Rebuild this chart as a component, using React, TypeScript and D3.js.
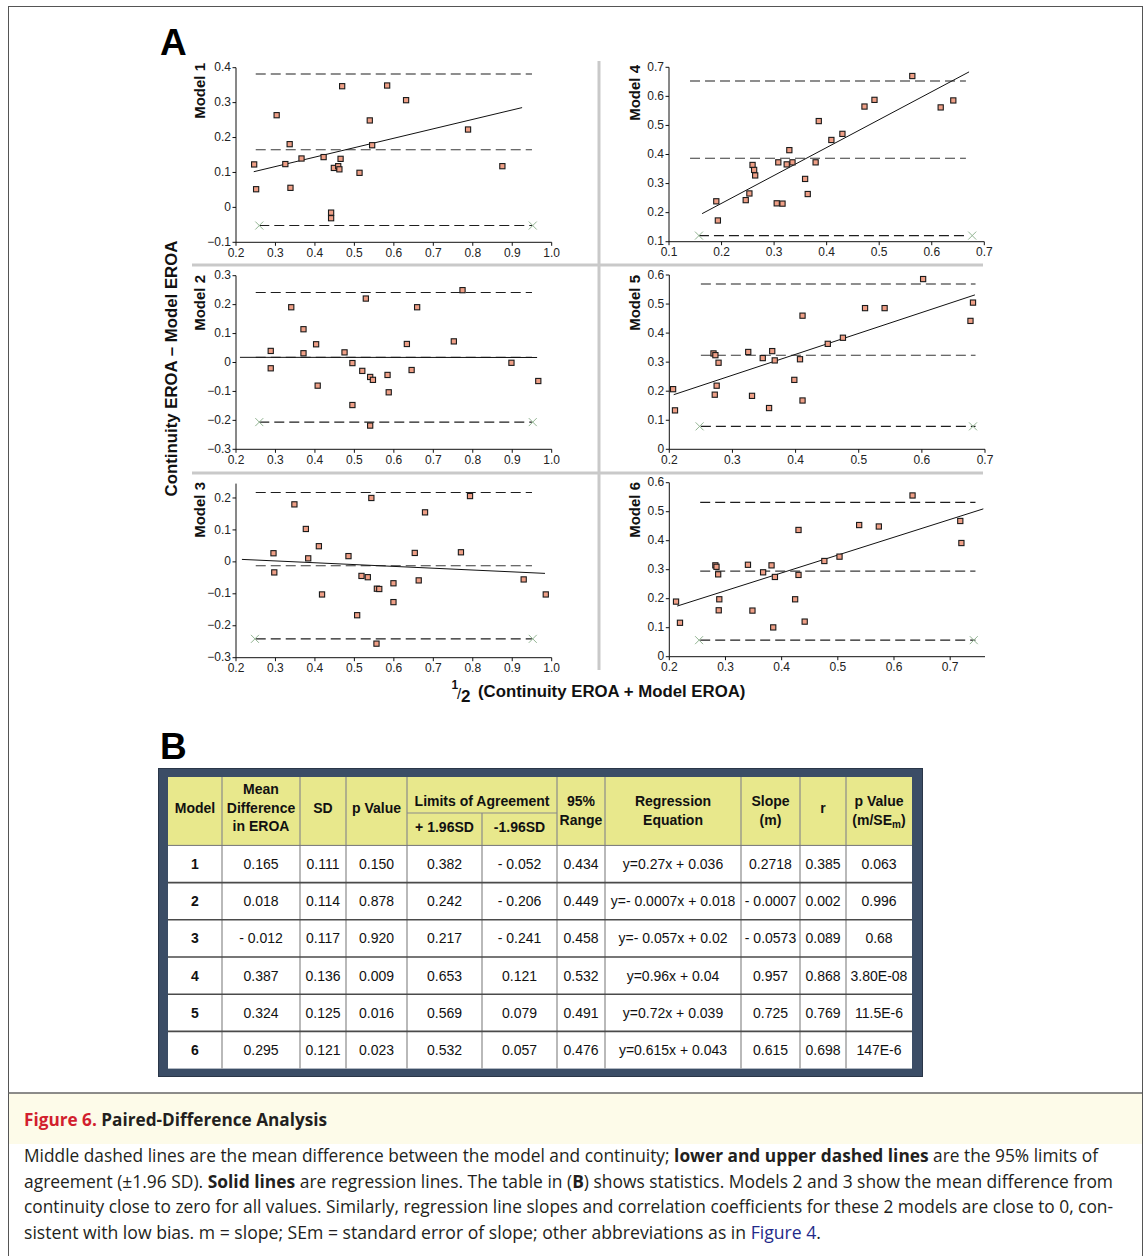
import React from 'react';
import * as d3 from 'd3';

// ---------------- DATA ----------------
const modelNames = ['Model 1', 'Model 2', 'Model 3', 'Model 4', 'Model 5', 'Model 6'];

const m1X = [0.246, 0.251, 0.303, 0.325, 0.336, 0.338, 0.366, 0.422, 0.441, 0.441, 0.448, 0.459, 0.462, 0.465, 0.469, 0.513, 0.539, 0.545, 0.583, 0.631, 0.788, 0.875];
const m1Y = [0.123, 0.052, 0.264, 0.124, 0.181, 0.056, 0.140, 0.144, -0.015, -0.031, 0.113, 0.118, 0.109, 0.139, 0.347, 0.099, 0.249, 0.178, 0.349, 0.307, 0.223, 0.118];

const m2X = [0.288, 0.288, 0.340, 0.371, 0.371, 0.403, 0.407, 0.475, 0.495, 0.495, 0.520, 0.529, 0.540, 0.547, 0.540, 0.584, 0.587, 0.633, 0.645, 0.659, 0.752, 0.774, 0.898, 0.966];
const m2Y = [0.040, -0.020, 0.191, 0.115, 0.032, 0.063, -0.080, 0.035, -0.002, -0.147, -0.029, 0.221, -0.050, -0.060, -0.218, -0.043, -0.103, 0.064, -0.026, 0.191, 0.073, 0.250, -0.001, -0.064];

const m3X = [0.295, 0.297, 0.348, 0.377, 0.383, 0.410, 0.418, 0.485, 0.507, 0.518, 0.534, 0.543, 0.557, 0.563, 0.556, 0.599, 0.599, 0.653, 0.663, 0.679, 0.770, 0.793, 0.929, 0.985];
const m3Y = [0.027, -0.033, 0.180, 0.103, 0.011, 0.049, -0.102, 0.018, -0.167, -0.044, -0.048, 0.200, -0.084, -0.085, -0.256, -0.067, -0.126, 0.028, -0.058, 0.155, 0.030, 0.206, -0.055, -0.102];

const m4X = [0.190, 0.193, 0.246, 0.253, 0.259, 0.262, 0.264, 0.305, 0.308, 0.316, 0.324, 0.329, 0.335, 0.359, 0.364, 0.379, 0.385, 0.409, 0.430, 0.472, 0.491, 0.563, 0.617, 0.641];
const m4Y = [0.239, 0.173, 0.243, 0.266, 0.364, 0.347, 0.328, 0.232, 0.373, 0.231, 0.366, 0.415, 0.373, 0.316, 0.264, 0.373, 0.515, 0.450, 0.471, 0.565, 0.588, 0.670, 0.562, 0.586];

const m5X = [0.206, 0.209, 0.270, 0.273, 0.278, 0.275, 0.272, 0.325, 0.331, 0.348, 0.363, 0.367, 0.358, 0.398, 0.407, 0.411, 0.411, 0.451, 0.475, 0.510, 0.541, 0.602, 0.677, 0.681];
const m5Y = [0.207, 0.134, 0.330, 0.324, 0.298, 0.219, 0.188, 0.335, 0.184, 0.314, 0.338, 0.306, 0.142, 0.239, 0.310, 0.460, 0.168, 0.363, 0.384, 0.486, 0.486, 0.586, 0.442, 0.505];

const m6X = [0.212, 0.219, 0.282, 0.284, 0.287, 0.289, 0.288, 0.340, 0.348, 0.367, 0.382, 0.388, 0.385, 0.424, 0.430, 0.430, 0.441, 0.476, 0.503, 0.538, 0.573, 0.633, 0.718, 0.720];
const m6Y = [0.190, 0.117, 0.315, 0.310, 0.284, 0.198, 0.160, 0.317, 0.159, 0.291, 0.315, 0.275, 0.101, 0.198, 0.437, 0.282, 0.121, 0.330, 0.345, 0.454, 0.449, 0.556, 0.468, 0.392];

const pointsX = [m1X, m2X, m3X, m4X, m5X, m6X];
const pointsY = [m1Y, m2Y, m3Y, m4Y, m5Y, m6Y];

// statistics (table B)
const meanDiff = [0.165, 0.018, -0.012, 0.387, 0.324, 0.295];
const upperLoA = [0.382, 0.242, 0.217, 0.653, 0.569, 0.532];
const lowerLoA = [-0.052, -0.206, -0.241, 0.121, 0.079, 0.057];
const regSlope = [0.27, -0.0007, -0.057, 0.96, 0.72, 0.615];
const regIntercept = [0.036, 0.018, 0.02, 0.04, 0.039, 0.043];

// x-extent of the regression and limit lines, and the end markers
const regFrom = [0.245, 0.21, 0.215, 0.163, 0.207, 0.214];
const regTo = [0.925, 0.963, 0.983, 0.671, 0.684, 0.759];
const limitFrom = [0.25, 0.25, 0.25, 0.14, 0.25, 0.255];
const limitTo = [0.95, 0.95, 0.95, 0.665, 0.685, 0.745];
const crossX1 = [0.259, 0.259, 0.248, 0.157, 0.248, 0.253];
const crossX2 = [0.952, 0.952, 0.952, 0.677, 0.681, 0.742];

// ticks
const xTicksLeft = [0.2, 0.3, 0.4, 0.5, 0.6, 0.7, 0.8, 0.9, 1.0];
const xTicks4 = [0.1, 0.2, 0.3, 0.4, 0.5, 0.6, 0.7];
const xTicks56 = [0.2, 0.3, 0.4, 0.5, 0.6, 0.7];
const yTicks1 = [-0.1, 0, 0.1, 0.2, 0.3, 0.4];
const yTicks2 = [-0.3, -0.2, -0.1, 0, 0.1, 0.2, 0.3];
const yTicks3 = [-0.3, -0.2, -0.1, 0, 0.1, 0.2];
const yTicks4 = [0.1, 0.2, 0.3, 0.4, 0.5, 0.6, 0.7];
const yTicks56 = [0, 0.1, 0.2, 0.3, 0.4, 0.5, 0.6];

// table text
const tblModel = ['1', '2', '3', '4', '5', '6'];
const tblMean = ['0.165', '0.018', '- 0.012', '0.387', '0.324', '0.295'];
const tblSD = ['0.111', '0.114', '0.117', '0.136', '0.125', '0.121'];
const tblP = ['0.150', '0.878', '0.920', '0.009', '0.016', '0.023'];
const tblUpper = ['0.382', '0.242', '0.217', '0.653', '0.569', '0.532'];
const tblLower = ['- 0.052', '- 0.206', '- 0.241', '0.121', '0.079', '0.057'];
const tblRange = ['0.434', '0.449', '0.458', '0.532', '0.491', '0.476'];
const tblEq = ['y=0.27x + 0.036', 'y=- 0.0007x + 0.018', 'y=- 0.057x + 0.02', 'y=0.96x + 0.04', 'y=0.72x + 0.039', 'y=0.615x + 0.043'];
const tblSlope = ['0.2718', '- 0.0007', '- 0.0573', '0.957', '0.725', '0.615'];
const tblR = ['0.385', '0.002', '0.089', '0.868', '0.769', '0.698'];
const tblPSlope = ['0.063', '0.996', '0.68', '3.80E-08', '11.5E-6', '147E-6'];

// ---------------- LAYOUT ----------------
const FONT = "'Liberation Sans', Arial, Helvetica, sans-serif";
const CAPFONT = "'Open Sans', 'Noto Sans', sans-serif";

type PanelCfg = {
  xr: [number, number]; yr: [number, number];
  xd: [number, number]; yd: [number, number];
  xt: number[]; yt: number[]; labelX: number; labelTop: number;
};

const panels: PanelCfg[] = [
  { xr: [236, 551.7], yr: [242.3, 67.7], xd: [0.2, 1.0], yd: [-0.1, 0.4], xt: xTicksLeft, yt: yTicks1, labelX: 205, labelTop: 63 },
  { xr: [236, 551.7], yr: [449.3, 275.7], xd: [0.2, 1.0], yd: [-0.3, 0.3], xt: xTicksLeft, yt: yTicks2, labelX: 205, labelTop: 275 },
  { xr: [236, 551.7], yr: [657.7, 483.6], xd: [0.2, 1.0], yd: [-0.3, 0.245], xt: xTicksLeft, yt: yTicks3, labelX: 205, labelTop: 482 },
  { xr: [669, 984.3], yr: [241.7, 67.3], xd: [0.1, 0.7], yd: [0.1, 0.7], xt: xTicks4, yt: yTicks4, labelX: 640, labelTop: 65 },
  { xr: [669.3, 985], yr: [449.3, 275], xd: [0.2, 0.7], yd: [0, 0.6], xt: xTicks56, yt: yTicks56, labelX: 640, labelTop: 275 },
  { xr: [669.3, 985], yr: [656.7, 482.7], xd: [0.2, 0.762], yd: [0, 0.6], xt: xTicks56, yt: yTicks56, labelX: 640, labelTop: 482 },
];

const fmtY = (v: number) => (Math.abs(v) < 1e-9 ? '0' : d3.format('.1f')(v));
const fmtX = (v: number) => d3.format('.1f')(v);

function Panel({ i }: { i: number }) {
  const p = panels[i];
  const x = d3.scaleLinear().domain(p.xd).range(p.xr);
  const y = d3.scaleLinear().domain(p.yd).range(p.yr);
  const xs = pointsX[i];
  const ys = pointsY[i];
  const reg = d3.line<number>().x((d) => x(d)).y((d) => y(regSlope[i] * d + regIntercept[i]));
  const ax0 = p.xr[0];
  const ay0 = p.yr[0];
  const limits = [upperLoA[i], meanDiff[i], lowerLoA[i]];
  const cross = (cx: number, cy: number, k: string) => (
    <g key={k} stroke="#93b593" strokeWidth={1}>
      <line x1={cx - 4} y1={cy - 4} x2={cx + 4} y2={cy + 4} />
      <line x1={cx - 4} y1={cy + 4} x2={cx + 4} y2={cy - 4} />
    </g>
  );
  return (
    <g>
      {limits.map((v, k) => (
        <line key={'l' + k}
          x1={x(k === 2 ? Math.max(limitFrom[i], crossX1[i]) : limitFrom[i])}
          x2={x(limitTo[i])} y1={y(v)} y2={y(v)}
          stroke={k === 1 ? '#3a3a3a' : '#1e1e1e'} strokeWidth={1.1} strokeDasharray="10,5" />
      ))}
      <path d={reg([regFrom[i], regTo[i]]) || ''} stroke="#111" strokeWidth={1} fill="none" />
      {xs.map((xv, k) => (
        <rect key={'p' + k} x={x(xv) - 2.6} y={y(ys[k]) - 2.6} width={5.2} height={5.2}
          fill="#ef9f86" stroke="#1a1a1a" strokeWidth={1.1} />
      ))}
      {cross(x(crossX1[i]), y(lowerLoA[i]), 'c1')}
      {cross(x(crossX2[i]), y(lowerLoA[i]), 'c2')}
      <line x1={ax0} x2={ax0} y1={p.yr[0]} y2={p.yr[1]} stroke="#111" strokeWidth={1} />
      <line x1={p.xr[0]} x2={p.xr[1]} y1={ay0} y2={ay0} stroke="#111" strokeWidth={1} />
      {p.yt.map((t) => (
        <g key={'yt' + t}>
          <line x1={ax0 - 3.5} x2={ax0} y1={y(t)} y2={y(t)} stroke="#111" strokeWidth={1} />
          <text x={ax0 - 5} y={y(t)} dy="0.3em" textAnchor="end" fontSize={12} fill="#222">{fmtY(t)}</text>
        </g>
      ))}
      {p.xt.map((t) => (
        <g key={'xt' + t}>
          <line x1={x(t)} x2={x(t)} y1={ay0} y2={ay0 + 3.5} stroke="#111" strokeWidth={1} />
          <text x={x(t)} y={ay0 + 14.5} textAnchor="middle" fontSize={12} fill="#222">{fmtX(t)}</text>
        </g>
      ))}
      <text transform={`translate(${p.labelX},${p.labelTop}) rotate(-90)`} textAnchor="end"
        fontSize={15} fontWeight="bold" fill="#111">{modelNames[i]}</text>
    </g>
  );
}

// table layout
const colEdges = [168, 222, 300, 346, 407, 482, 557, 605, 741, 800, 846, 912];
const tableTop = 777;
const headerBottom = 845.4;
const tableBottom = 1068.6;

function Table() {
  const rowScale = d3.scaleLinear().domain([0, 6]).range([headerBottom, tableBottom]);
  const cx = (c: number) => (colEdges[c] + colEdges[c + 1]) / 2;
  const cols = [tblModel, tblMean, tblSD, tblP, tblUpper, tblLower, tblRange, tblEq, tblSlope, tblR, tblPSlope];
  const hdr = (c: number, lines: string[], ys: number[]) =>
    lines.map((s, k) => (
      <text key={c + '-' + k} x={cx(c)} y={ys[k]} dy="0.36em" textAnchor="middle" fontWeight="bold" fontSize={14} fill="#111">{s}</text>
    ));
  return (
    <g fontFamily={FONT}>
      <rect x={158} y={768} width={765} height={309} fill="#3b4d66" />
      <rect x={158.5} y={768.5} width={764} height={308} fill="none" stroke="#2a3648" strokeWidth={1} />
      <rect x={colEdges[0]} y={tableTop} width={colEdges[11] - colEdges[0]} height={headerBottom - tableTop} fill="#e8e88c" />
      <rect x={colEdges[0]} y={headerBottom} width={colEdges[11] - colEdges[0]} height={tableBottom - headerBottom} fill="#ffffff" />
      {colEdges.slice(1, 11).map((e, k) => (
        <line key={'v' + k} x1={e} x2={e}
          y1={k === 4 ? 813 : tableTop} y2={tableBottom} stroke="#8a8a8a" strokeWidth={1.2} />
      ))}
      <line x1={colEdges[4]} x2={colEdges[6]} y1={813} y2={813} stroke="#8a8a8a" strokeWidth={1.2} />
      {d3.range(0, 6).map((r) => (
        <line key={'h' + r} x1={colEdges[0]} x2={colEdges[11]} y1={rowScale(r)} y2={rowScale(r)}
          stroke={r === 0 ? '#777' : '#4a4a4a'} strokeWidth={r === 0 ? 1 : 1.6} />
      ))}
      {hdr(0, ['Model'], [808])}
      {hdr(1, ['Mean', 'Difference', 'in EROA'], [789, 808, 826])}
      {hdr(2, ['SD'], [808])}
      {hdr(3, ['p Value'], [808])}
      <text x={(colEdges[4] + colEdges[6]) / 2} y={801} dy="0.36em" textAnchor="middle" fontWeight="bold" fontSize={14} fill="#111">Limits of Agreement</text>
      {hdr(4, ['+ 1.96SD'], [827])}
      {hdr(5, ['-1.96SD'], [827])}
      {hdr(6, ['95%', 'Range'], [801, 820])}
      {hdr(7, ['Regression', 'Equation'], [801, 820])}
      {hdr(8, ['Slope', '(m)'], [801, 820])}
      {hdr(9, ['r'], [808])}
      {hdr(10, ['p Value'], [801])}
      <text x={cx(10)} y={820} dy="0.36em" textAnchor="middle" fontWeight="bold" fontSize={14} fill="#111">
        (m/SE<tspan fontSize={10} dy="3">m</tspan><tspan dy="-3">)</tspan>
      </text>
      {cols.map((col, c) =>
        col.map((s, r) => (
          <text key={c + '_' + r} x={cx(c)} y={(rowScale(r) + rowScale(r + 1)) / 2} dy="0.36em"
            textAnchor="middle" fontSize={14} fontWeight={c === 0 ? 'bold' : 'normal'} fill="#111">{s}</text>
        ))
      )}
    </g>
  );
}

type Part = [string, string];
const captionTitle: Part[] = [['Figure 6.', 'red'], [' Paired-Difference Analysis', 'b']];
const captionLines: { parts: Part[]; len: number }[] = [
  { parts: [['Middle dashed lines are the mean difference between the model and continuity; ', 'n'], ['lower and upper dashed lines', 'b'], [' are the 95% limits of', 'n']], len: 1074 },
  { parts: [['agreement (\u00b11.96 SD). ', 'n'], ['Solid lines', 'b'], [' are regression lines. The table in (', 'n'], ['B', 'b'], [') shows statistics. Models 2 and 3 show the mean difference from', 'n']], len: 1089 },
  { parts: [['continuity close to zero for all values. Similarly, regression line slopes and correlation coefficients for these 2 models are close to 0, con-', 'n']], len: 1089 },
  { parts: [['sistent with low bias. m = slope; SEm = standard error of slope; other abbreviations as in ', 'n'], ['Figure 4', 'link'], ['.', 'n']], len: 797 },
];
const captionBaselines = [1162, 1187.5, 1213, 1238.5];

function partStyle(s: string) {
  if (s === 'b') return { fontWeight: 'bold' as const, fill: '#231f20' };
  if (s === 'red') return { fontWeight: 'bold' as const, fill: '#d21f2e' };
  if (s === 'link') return { fontWeight: 'normal' as const, fill: '#1f2a8a' };
  return { fontWeight: 'normal' as const, fill: '#231f20' };
}

export default function App() {
  return (
    <svg width={1148} height={1256} viewBox="0 0 1148 1256"
      style={{ position: 'absolute', left: 0, top: 0, display: 'block' }} fontFamily={FONT}>
      <rect x={0} y={0} width={1148} height={1256} fill="#ffffff" />
      <rect x={8} y={1093} width={1134} height={51} fill="#fdfbe9" />
      <rect x={8.5} y={6.5} width={1134} height={1262} fill="none" stroke="#555" strokeWidth={1} />
      <line x1={8} x2={1142} y1={1093} y2={1093} stroke="#666" strokeWidth={1.5} />

      <line x1={599} x2={599} y1={61} y2={670} stroke="#c9c9c9" strokeWidth={3} />
      <line x1={192} x2={983} y1={265} y2={265} stroke="#c9c9c9" strokeWidth={3} />
      <line x1={192} x2={983} y1={473} y2={473} stroke="#c9c9c9" strokeWidth={3} />

      {panels.map((_, i) => <Panel key={i} i={i} />)}

      <text x={160} y={55} fontSize={37} fontWeight="bold" fill="#000">A</text>

      <text transform="translate(177,368.5) rotate(-90)" textAnchor="middle" fontSize={16.8} fontWeight="bold" fill="#111">
        Continuity EROA {'\u2013'} Model EROA
      </text>
      <text x={451.5} y={689} fontSize={12} fontWeight="bold" fill="#111">1</text>
      <text x={457} y={699} fontSize={15} fill="#111">/</text>
      <text x={461} y={701.5} fontSize={17} fontWeight="bold" fill="#111">2</text>
      <text x={478} y={697} fontSize={16.8} fontWeight="bold" fill="#111">(Continuity EROA + Model EROA)</text>

      <text x={160} y={759} fontSize={37} fontWeight="bold" fill="#000">B</text>

      <Table />

      <text x={24} y={1126} fontFamily={CAPFONT} fontSize={17.5} textLength={303} lengthAdjust="spacingAndGlyphs">
        {captionTitle.map(([s, st], k) => <tspan key={k} {...partStyle(st)}>{s}</tspan>)}
      </text>
      {captionLines.map((ln, li) => (
        <text key={li} x={24} y={captionBaselines[li]} fontFamily={CAPFONT} fontSize={17.5}
          textLength={ln.len} lengthAdjust="spacingAndGlyphs">
          {ln.parts.map(([s, st], k) => <tspan key={k} {...partStyle(st)}>{s}</tspan>)}
        </text>
      ))}
    </svg>
  );
}
